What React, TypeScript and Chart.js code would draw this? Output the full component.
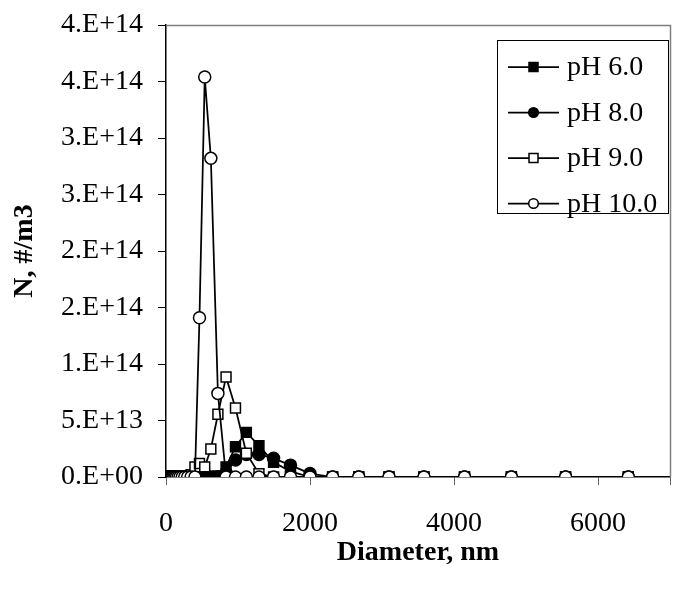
import React, { useEffect, useRef } from 'react';
import { Chart, registerables } from 'chart.js';

Chart.register(...registerables);

// Particle diameters (nm)
const diameters = [
  25.2, 29.1, 33.7, 39, 45.1, 52.2, 60.4, 69.8, 80.8, 93.5,
  108, 125, 145, 168, 194, 225, 260, 301, 348, 402,
  465, 538, 623, 721, 834, 965, 1116, 1291, 1494, 1729,
  2000, 2314, 2677, 3097, 3583, 4146, 4797, 5550, 6421,
];

// Number concentration N (#/m3) for each pH
const ph6 = [
  0, 0, 0, 0, 0, 0, 0, 0, 0, 0,
  0, 0, 0, 0, 0, 0, 0, 0, 0, 0,
  0, 0, 0, 1e12, 9e12, 2.68e13, 3.95e13, 2.77e13, 1.3e13, 5e12,
  0, 0, 0, 0, 0, 0, 0, 0, 0,
];
const ph8 = [
  0, 0, 0, 0, 0, 0, 0, 0, 0, 0,
  0, 0, 0, 0, 0, 0, 0, 0, 0, 0,
  0, 0, 0, 0, 4e12, 1.5e13, 2.0e13, 2.0e13, 1.65e13, 1.05e13,
  3e12, 0, 0, 0, 0, 0, 0, 0, 0,
];
const ph9 = [
  0, 0, 0, 0, 0, 0, 0, 0, 0, 0,
  0, 0, 0, 0, 0, 0, 0, 0, 2e12, 9e12,
  1.2e13, 9e12, 2.48e13, 5.55e13, 8.85e13, 6.1e13, 2.1e13, 3e12, 0, 0,
  0, 0, 0, 0, 0, 0, 0, 0, 0,
];
const ph10 = [
  0, 0, 0, 0, 0, 0, 0, 0, 0, 0,
  0, 0, 0, 0, 0, 0, 0, 0, 0, 0,
  1.41e14, 3.54e14, 2.82e14, 7.4e13, 0, 0, 0, 0, 0, 0,
  0, 0, 0, 0, 0, 0, 0, 0, 0,
];

const seriesNames = ['pH 6.0', 'pH 8.0', 'pH 9.0', 'pH 10.0'];
const xTickValues = [0, 2000, 4000, 6000, 7000];
const xTickLabels = ['0', '2000', '4000', '6000', ''];
const yTickValues = [0, 5e13, 1e14, 1.5e14, 2e14, 2.5e14, 3e14, 3.5e14, 4e14];
const yTickLabels = ['0.E+00', '5.E+13', '1.E+14', '2.E+14', '2.E+14', '3.E+14', '3.E+14', '4.E+14', '4.E+14'];

const FONT = '"Liberation Serif", "Times New Roman", serif';
const FS = 28;

const W = 683;
const H = 591;

type Sty = { pointStyle: string; fill: string };
const styles: Sty[] = [
  { pointStyle: 'rect', fill: '#000' },
  { pointStyle: 'circle', fill: '#000' },
  { pointStyle: 'rect', fill: '#fff' },
  { pointStyle: 'circle', fill: '#fff' },
];

const frameAndLegend = {
  id: 'frameAndLegend',
  beforeDatasetsDraw(chart: any) {
    const { ctx, chartArea: a } = chart;
    ctx.save();
    ctx.strokeStyle = '#808080';
    ctx.lineWidth = 1.5;
    ctx.beginPath();
    ctx.moveTo(a.left, a.top + 0.5);
    ctx.lineTo(a.right + 0.5, a.top + 0.5);
    ctx.lineTo(a.right + 0.5, a.bottom);
    ctx.stroke();
    ctx.restore();
  },
  afterDraw(chart: any) {
    const { ctx, chartArea: a } = chart;
    const bx = a.right - 173;
    const by = a.top + 15;
    const bw = 171;
    const bh = 173;
    ctx.save();
    ctx.fillStyle = '#fff';
    ctx.fillRect(bx, by, bw, bh);
    ctx.strokeStyle = '#000';
    ctx.lineWidth = 1;
    ctx.strokeRect(bx + 0.5, by + 0.5, bw, bh);
    seriesNames.forEach((name, i) => {
      const cy = by + 27 + i * 45.5;
      ctx.strokeStyle = '#000';
      ctx.lineWidth = 1.75;
      ctx.beginPath();
      ctx.moveTo(bx + 11, cy);
      ctx.lineTo(bx + 62, cy);
      ctx.stroke();
      const mx = bx + 36.5;
      ctx.fillStyle = styles[i].fill;
      ctx.lineWidth = 1.5;
      ctx.beginPath();
      if (styles[i].pointStyle === 'rect') {
        ctx.rect(mx - 4.5, cy - 4.5, 9, 9);
      } else {
        ctx.arc(mx, cy, 4.8, 0, Math.PI * 2);
      }
      ctx.fill();
      ctx.stroke();
      ctx.fillStyle = '#000';
      ctx.font = `${FS}px ${FONT}`;
      ctx.textBaseline = 'middle';
      ctx.textAlign = 'left';
      ctx.fillText(name, bx + 70, cy + 1);
    });
    ctx.restore();
  },
};

export default function App() {
  const ref = useRef<HTMLCanvasElement | null>(null);

  useEffect(() => {
    document.body.style.margin = '0';
    const canvas = ref.current;
    if (!canvas) return;
    const values = [ph6, ph8, ph9, ph10];
    const chart = new Chart(canvas, {
      type: 'line',
      data: {
        datasets: values.map((vals, i) => ({
          label: seriesNames[i],
          data: diameters.map((d, j) => ({ x: d, y: vals[j] })),
          borderColor: '#000',
          borderWidth: 1.75,
          pointStyle: styles[i].pointStyle as any,
          pointRadius: styles[i].pointStyle === 'rect' ? 7 : 6,
          pointBackgroundColor: styles[i].fill,
          pointBorderColor: '#000',
          pointBorderWidth: 1.5,
          fill: false,
          tension: 0,
          order: 3 - i,
        })),
      },
      options: {
        animation: false,
        responsive: false,
        devicePixelRatio: 1,
        events: [],
        layout: { padding: { top: 25, right: 13, left: 0, bottom: 0 } },
        plugins: {
          legend: { display: false },
          tooltip: { enabled: false },
        },
        scales: {
          x: {
            type: 'linear',
            bounds: 'data',
            min: 0,
            max: 7000,
            afterBuildTicks: (s: any) => {
              s.ticks = xTickValues.map((v) => ({ value: v }));
            },
            afterFit: (s: any) => {
              s.height = 114;
              s.paddingLeft = 0;
              s.paddingRight = 0;
            },
            ticks: {
              color: '#000',
              font: { family: FONT, size: FS },
              padding: 22,
              maxRotation: 0,
              autoSkip: false,
              callback: (_v: any, i: number) => xTickLabels[i] ?? '',
            },
            grid: {
              drawOnChartArea: false,
              drawTicks: true,
              tickLength: 8,
              color: '#666',
            },
            border: { display: true, color: '#000', width: 1.5 },
            title: {
              display: true,
              text: 'Diameter, nm',
              color: '#000',
              font: { family: FONT, size: FS, weight: 'bold' },
              padding: { top: 0, bottom: 21 },
            },
          },
          y: {
            type: 'linear',
            bounds: 'data',
            min: 0,
            max: 4e14,
            afterBuildTicks: (s: any) => {
              s.ticks = yTickValues.map((v) => ({ value: v }));
            },
            afterFit: (s: any) => {
              s.width = 166;
              s.paddingTop = 0;
              s.paddingBottom = 0;
            },
            ticks: {
              color: '#000',
              font: { family: FONT, size: FS },
              padding: 15,
              autoSkip: false,
              callback: (_v: any, i: number) => yTickLabels[i] ?? '',
            },
            grid: {
              drawOnChartArea: false,
              drawTicks: true,
              tickLength: 8,
              color: '#000',
            },
            border: { display: true, color: '#000', width: 1.5 },
            title: {
              display: true,
              text: 'N, #/m3',
              color: '#000',
              font: { family: FONT, size: FS, weight: 'bold' },
              padding: { top: 8, bottom: 0 },
            },
          },
        },
      },
      plugins: [frameAndLegend],
    });
    return () => chart.destroy();
  }, []);

  return (
    <div style={{ position: 'absolute', left: 0, top: 0, width: W, height: H, background: '#fff' }}>
      <canvas ref={ref} width={W} height={H} style={{ width: W, height: H, display: 'block' }} />
    </div>
  );
}
